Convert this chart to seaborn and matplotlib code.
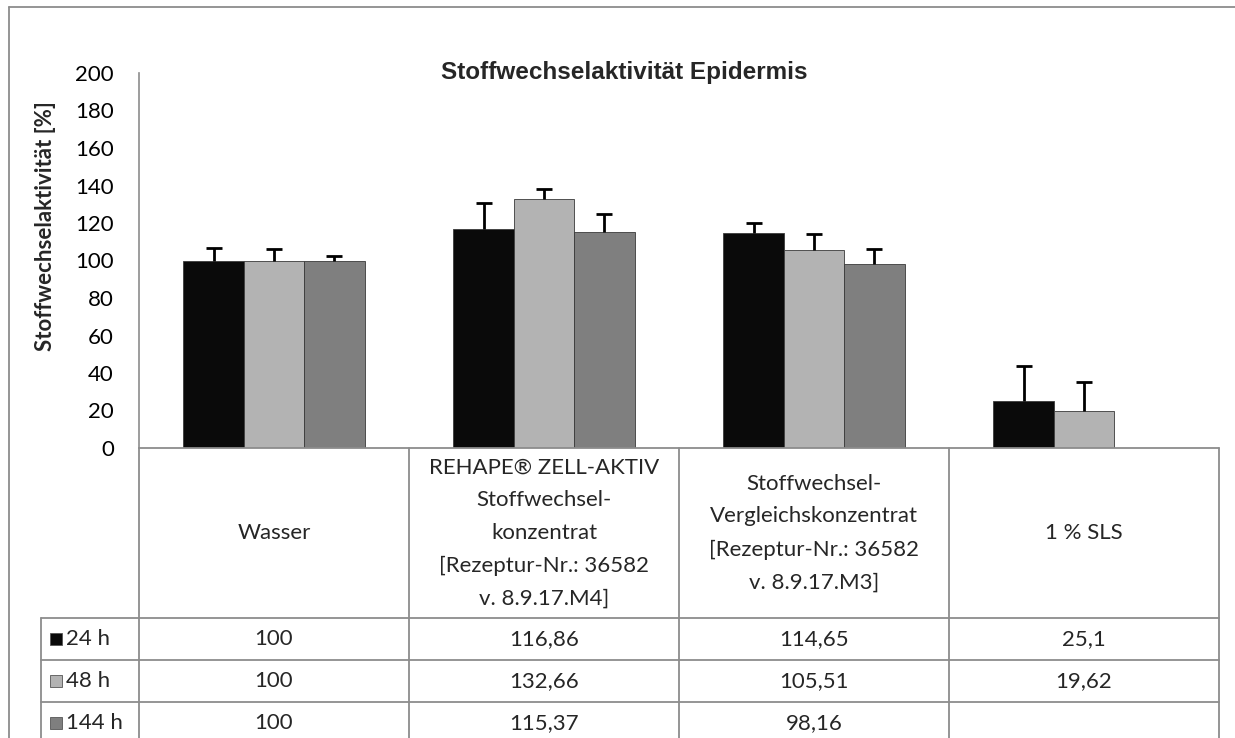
import numpy as np
import pandas as pd
import matplotlib
matplotlib.use("Agg")
import matplotlib.pyplot as plt
from matplotlib.lines import Line2D
from matplotlib.patches import Rectangle
import seaborn as sns

# ---------------- data ----------------
categories = [
    "Wasser",
    "REHAPE® ZELL-AKTIV\nStoffwechsel-\nkonzentrat\n[Rezeptur-Nr.: 36582\nv. 8.9.17.M4]",
    "Stoffwechsel-\nVergleichskonzentrat\n[Rezeptur-Nr.: 36582\nv. 8.9.17.M3]",
    "1 % SLS",
]
series = ["24 h", "48 h", "144 h"]
values_24h = [100, 116.86, 114.65, 25.1]
values_48h = [100, 132.66, 105.51, 19.62]
values_144h = [100, 115.37, 98.16, None]
err_24h = [6.7, 13.6, 5.4, 18.6]
err_48h = [6.0, 5.3, 8.5, 15.6]
err_144h = [2.6, 9.3, 8.0, None]
yticks = list(range(0, 201, 20))
title = "Stoffwechselaktivität Epidermis"
ylabel = "Stoffwechselaktivität [%]"

colors = ["#0a0a0a", "#b3b3b3", "#7f7f7f"]
grid_c = "#8c8c8c"

values = [values_24h, values_48h, values_144h]
errors = [err_24h, err_48h, err_144h]
rows = []
for s, vals, errs in zip(series, values, errors):
    for c, v, e in zip(categories, vals, errs):
        if v is not None:
            rows.append({"cat": c, "series": s, "value": v, "err": e})
df = pd.DataFrame(rows)

# ---------------- figure ----------------
W, H = 1235, 738
sns.set_theme(style="white")
plt.rcParams["font.family"] = ["Lato", "DejaVu Sans"]
fig = plt.figure(figsize=(W / 100, H / 100), dpi=100)

def fx(x):
    return x / W

def fy(y):
    return 1 - y / H

x0, x1, ytop, ybot = 139, 1219, 73, 448
ax = fig.add_axes([fx(x0), fy(ybot), fx(x1) - fx(x0), fy(ytop) - fy(ybot)])

sns.barplot(data=df, x="cat", y="value", hue="series", order=categories,
            hue_order=series, palette=colors, width=0.672, errorbar=None,
            saturation=1, ax=ax, legend=False, edgecolor="#3a3a3a", linewidth=0.6)

# error bars (upper only)
bar_containers = list(ax.containers)
for si, cont in enumerate(bar_containers):
    sub = df[df["series"] == series[si]].reset_index(drop=True)
    for bar, (_, r) in zip(cont, sub.iterrows()):
        cx = bar.get_x() + bar.get_width() / 2
        eb = ax.errorbar(cx, r["value"], yerr=[[0], [r["err"]]], fmt="none",
                         ecolor="black", elinewidth=2, capsize=6, capthick=2, zorder=5)
        for cap in eb.lines[1]:
            if np.isclose(cap.get_ydata()[0], r["value"]):
                cap.set_visible(False)

ax.set_ylim(0, 200)
ax.set_xlim(-0.5, 3.5)
ax.set_yticks(yticks)
ax.set_yticklabels([str(t) for t in yticks], fontsize=16, color="black")
ax.tick_params(axis="y", length=0, pad=18)
ax.set_xticks([])
ax.set_xlabel("")
ax.set_ylabel("")
for sp in ["top", "right", "bottom"]:
    ax.spines[sp].set_visible(False)
ax.spines["left"].set_color(grid_c)
ax.spines["left"].set_linewidth(1.2)
ax.patch.set_alpha(0)

# title & y label
fig.text(fx(624), fy(72), title, ha="center", va="center", fontsize=17.5,
         fontweight="bold", family=["Liberation Sans", "DejaVu Sans"])
fig.text(fx(46), fy(226), ylabel, ha="center", va="center", rotation=90,
         fontsize=16, fontweight="bold")

# ---------------- table ----------------
def hline(y, xa, xb):
    fig.add_artist(Line2D([fx(xa), fx(xb)], [fy(y), fy(y)], color=grid_c, lw=1.3))

def vline(x, ya, yb):
    fig.add_artist(Line2D([fx(x), fx(x)], [fy(ya), fy(yb)], color=grid_c, lw=1.3))

# outer border
hline(7, 9, W)
vline(9, 7, H)

col_w = (x1 - x0) / len(categories)
bounds = [x0 + i * col_w for i in range(len(categories) + 1)]
hdr_bot = 618
row_ys = [618, 660, 702, 744]

hline(ybot, x0, x1)
for b in bounds:
    vline(b, ybot, H)
for ry in row_ys[:-1]:
    hline(ry, 41, x1)
vline(41, hdr_bot, H)

for i, c in enumerate(categories):
    cx = (bounds[i] + bounds[i + 1]) / 2
    fig.text(fx(cx), fy((ybot + hdr_bot) / 2), c, ha="center", va="center",
             fontsize=16, linespacing=1.8, multialignment="center")

def fmt(v):
    if v is None:
        return ""
    return f"{v:g}".replace(".", ",")

for ri, (s, vals) in enumerate(zip(series, values)):
    yc = (row_ys[ri] + row_ys[ri + 1]) / 2
    fig.add_artist(Rectangle((fx(50), fy(yc + 6)), fx(12) - fx(0), fy(0) - fy(12),
                             transform=fig.transFigure, facecolor=colors[ri],
                             edgecolor="#555555", lw=0.6))
    fig.text(fx(66), fy(yc), s, ha="left", va="center", fontsize=16)
    for i, v in enumerate(vals):
        cx = (bounds[i] + bounds[i + 1]) / 2
        fig.text(fx(cx), fy(yc), fmt(v), ha="center", va="center", fontsize=16)

fig.savefig("out.png", dpi=100)
